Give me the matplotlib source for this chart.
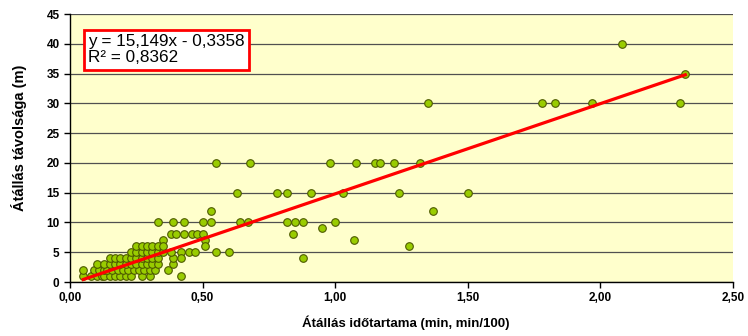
import numpy as np
import matplotlib.pyplot as plt
from matplotlib.ticker import FuncFormatter, MultipleLocator

plt.rcParams['font.family'] = ['Liberation Sans', 'DejaVu Sans']

# Trend line from the chart
SLOPE = 15.149
INTERCEPT = -0.3358

# Upper / scattered points
x_hi = [2.08, 2.32, 1.35, 1.78, 1.83, 1.97, 2.30,
        0.55, 0.68, 0.98, 1.08, 1.15, 1.17, 1.22, 1.32,
        0.63, 0.78, 0.82, 0.91, 1.03, 1.24, 1.50,
        0.53, 1.37,
        0.33, 0.39, 0.43, 0.50, 0.53, 0.64, 0.67, 0.82, 0.85, 0.88, 1.00,
        0.84, 0.95, 1.07, 1.28, 0.88,
        0.38, 0.40, 0.43, 0.46, 0.48, 0.50,
        0.35, 0.51, 0.51,
        0.42, 0.45, 0.47, 0.55, 0.60,
        0.42, 0.39, 0.37, 0.42]
y_hi = [40, 35, 30, 30, 30, 30, 30,
        20, 20, 20, 20, 20, 20, 20, 20,
        15, 15, 15, 15, 15, 15, 15,
        12, 12,
        10, 10, 10, 10, 10, 10, 10, 10, 10, 10, 10,
        8, 9, 7, 6, 4,
        8, 8, 8, 8, 8, 8,
        7, 7, 6,
        5, 5, 5, 5, 5,
        4, 3, 2, 1]

# Dense cluster near the origin (x values per y level)
x_y1 = [0.05, 0.08, 0.10, 0.12, 0.13, 0.15, 0.17, 0.19, 0.21, 0.23, 0.27, 0.30]
x_y2 = [0.05, 0.09, 0.11, 0.13, 0.14, 0.16, 0.18, 0.20, 0.22, 0.24, 0.26, 0.28, 0.30, 0.32]
x_y3 = [0.10, 0.13, 0.15, 0.17, 0.19, 0.21, 0.23, 0.25, 0.27, 0.29, 0.31, 0.33]
x_y4 = [0.15, 0.17, 0.19, 0.21, 0.23, 0.25, 0.27, 0.29, 0.31, 0.33, 0.39]
x_y5 = [0.23, 0.25, 0.27, 0.29, 0.31, 0.33, 0.35, 0.38]
x_y6 = [0.25, 0.27, 0.29, 0.31, 0.33, 0.35]

x = list(x_hi) + x_y1 + x_y2 + x_y3 + x_y4 + x_y5 + x_y6
y = (list(y_hi) + [1] * len(x_y1) + [2] * len(x_y2) + [3] * len(x_y3)
     + [4] * len(x_y4) + [5] * len(x_y5) + [6] * len(x_y6))
x = np.array(x)
y = np.array(y)

fig = plt.figure(figsize=(7.48, 3.36), dpi=100)
ax = fig.add_axes([0.0936, 0.1607, 0.8864, 0.7973])
ax.set_facecolor('#FFFFCC')

ax.set_xlim(0, 2.5)
ax.set_ylim(0, 45)
ax.yaxis.set_major_locator(MultipleLocator(5))
ax.xaxis.set_major_locator(MultipleLocator(0.5))
ax.xaxis.set_major_formatter(FuncFormatter(lambda v, p: f'{v:.2f}'.replace('.', ',')))
ax.grid(axis='y', color='#505050', lw=0.9)
ax.set_axisbelow(True)

for s in ['top', 'right']:
    ax.spines[s].set_visible(False)
for s in ['left', 'bottom']:
    ax.spines[s].set_color('black')
    ax.spines[s].set_linewidth(1.0)
ax.tick_params(direction='out', length=4, width=1, labelsize=8.5)
for lbl in ax.get_xticklabels() + ax.get_yticklabels():
    lbl.set_fontweight('bold')

ax.scatter(x, y, s=30, c='#99CC00', edgecolors='#4D5A00', linewidths=0.8, zorder=3)

xl = np.array([x.min(), x.max()])
ax.plot(xl, SLOPE * xl + INTERCEPT, color='#FF0000', lw=2.3, zorder=4)

ax.text(0.027, 0.925, 'y = 15,149x - 0,3358\nR² = 0,8362', transform=ax.transAxes,
        fontsize=12.3, va='top', ha='left', linespacing=1.1, zorder=5,
        bbox=dict(boxstyle='square,pad=0.25', fc='white', ec='#FF0000', lw=2))

ax.set_xlabel('Átállás időtartama (min, min/100)', fontsize=9.5, fontweight='bold')
ax.set_ylabel('Átállás távolsága (m)', fontsize=10.5, fontweight='bold')
ax.xaxis.set_label_coords(0.507, -0.125)
ax.yaxis.set_label_coords(-0.065, 0.54)

fig.savefig('out.png', dpi=100)
